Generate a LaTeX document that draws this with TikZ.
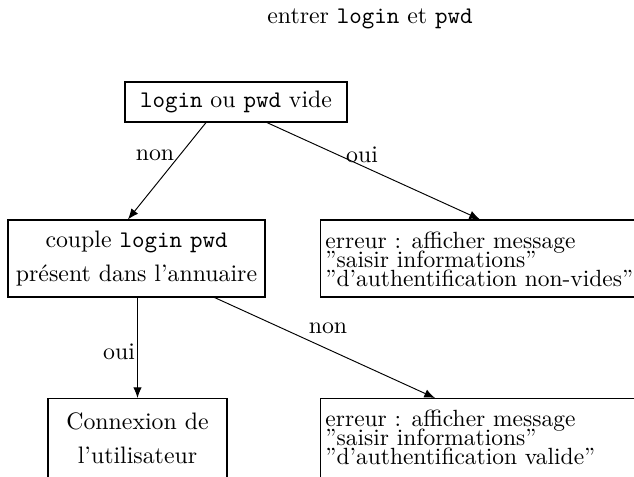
\documentclass[tikz,border=0pt]{standalone}
\usetikzlibrary{arrows.meta}
\newcommand\msgfont{\fontsize{9.85}{8}\selectfont\lineskiplimit=-100pt\relax}
\begin{document}
\begin{tikzpicture}[x=0.42pt,y=-0.42pt,
  box/.style={draw,line width=0.5pt,inner sep=0pt},
  link/.style={line width=0.4pt,-{Latex[length=4.5pt,width=3.6pt]}},
  msg/.style={anchor=west,inner sep=0pt,align=left,font=\msgfont},
  lab/.style={inner sep=1pt}]
\useasboundingbox (0,0) rectangle (634,476);
\clip (0,0) rectangle (634,476);
% heading
\node (titre) at (370,19) {entrer \texttt{login} et \texttt{pwd}};
% decision boxes
\node[box,minimum width=93.2pt,minimum height=16.8pt] (vide) at (236,102)
  {\texttt{login} ou \texttt{pwd} vide};
\node[box,minimum width=108pt,minimum height=32.3pt,align=center] (annu) at (136.5,258.5)
  {couple \texttt{login} \texttt{pwd}\\[2.5pt] présent dans l'annuaire};
% error boxes (open on the right)
\node[box,minimum width=138.6pt,minimum height=32.3pt,anchor=west] (err1) at (320,258.5) {};
\node[msg] (err1t) at (325,259)
  {erreur : afficher message\\
   ''saisir informations''\\
   ''d'authentification non-vides''};
\node[box,minimum width=138.6pt,minimum height=40pt,anchor=north west] (err2) at (320,398) {};
\node[msg] (err2t) at (325,437)
  {erreur : afficher message\\
   ''saisir informations''\\
   ''d'authentification valide''};
% success box
\node[box,minimum width=75.2pt,minimum height=40pt,anchor=north] (cnx) at (137.5,398) {};
\node[align=center,inner sep=0pt] (cnxt) at (137.5,438)
  {Connexion de\\[2.5pt] l'utilisateur};
% connectors
\draw[link] ([xshift=-12.6pt]vide.south) -- ([xshift=-3.6pt]annu.north);
\draw[link] ([xshift=13pt]vide.south) -- ([xshift=67.2pt]err1.north west);
\draw[link] (annu.south -| cnx.north) -- (cnx.north);
\draw[link] ([xshift=32.8pt]annu.south) -- ([xshift=48.3pt]err2.north west);
% branch labels
\node[lab] (l1) at (155,155) {non};
\node[lab] (l2) at (362,155) {oui};
\node[lab] (l3) at (119,352) {oui};
\node[lab] (l4) at (328,328) {non};
\end{tikzpicture}
\end{document}
